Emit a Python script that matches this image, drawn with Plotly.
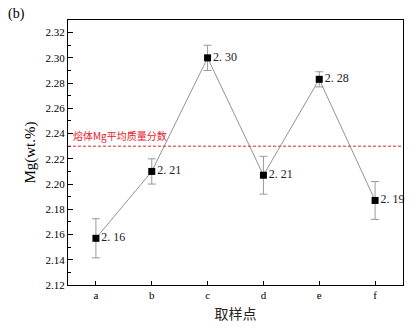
import plotly.graph_objects as go

categories = ["a", "b", "c", "d", "e", "f"]
values = [2.157, 2.210, 2.300, 2.207, 2.283, 2.187]
errors = [0.0155, 0.010, 0.010, 0.015, 0.006, 0.015]
labels = ["2. 16", "2. 21", "2. 30", "2. 21", "2. 28", "2. 19"]
mean_value = 2.23
mean_label = "熔体Mg平均质量分数"

serif = "Liberation Serif, Times New Roman, serif"

fig = go.Figure()
fig.add_trace(go.Scatter(
    x=list(range(len(categories))), y=values,
    mode="lines+markers+text",
    line=dict(color="#777777", width=0.8),
    marker=dict(symbol="square", size=7, color="black"),
    error_y=dict(type="data", array=errors, visible=True, color="#999999", thickness=1, width=4),
    text=labels, textposition="middle right",
    textfont=dict(family=serif, size=12, color="#222222"),
    showlegend=False, cliponaxis=False,
))

fig.add_shape(type="line", xref="paper", x0=0, x1=1, yref="y", y0=mean_value, y1=mean_value,
              line=dict(color="#e8202a", width=1, dash="3px,2px"))
fig.add_annotation(xref="paper", x=0.008, yref="y", y=mean_value, text=mean_label,
                   showarrow=False, xanchor="left", yanchor="bottom", yshift=1,
                   font=dict(family="Noto Sans CJK SC", size=10, color="#e8202a"))
fig.add_annotation(xref="paper", yref="paper", x=-0.185, y=1, text="(b)", showarrow=False,
                   xanchor="left", yanchor="middle", yshift=6,
                   font=dict(family=serif, size=14, color="black"))

fig.update_xaxes(
    range=[-0.5, 5.5], tickmode="array", tickvals=list(range(len(categories))), ticktext=categories,
    ticks="inside", ticklen=4, tickcolor="black", showline=True, linecolor="black", linewidth=1,
    mirror=True, showgrid=False, zeroline=False,
    tickfont=dict(family=serif, size=11, color="black"),
    title=dict(text="取样点", font=dict(family="Noto Sans CJK SC", size=14, color="#222222"), standoff=8),
)
fig.update_yaxes(
    range=[2.12, 2.33], tickmode="array", tickvals=[2.12 + 0.02 * i for i in range(11)],
    tickformat=".2f", ticks="inside", ticklen=5, tickcolor="black",
    minor=dict(ticks="inside", ticklen=3, dtick=0.01, tickcolor="black", tick0=2.12),
    showline=True, linecolor="black", linewidth=1, mirror=True, showgrid=False, zeroline=False,
    tickfont=dict(family=serif, size=11, color="black"),
    title=dict(text="Mg(wt.%)", font=dict(family=serif, size=15, color="black"), standoff=6),
)

fig.update_layout(
    width=416, height=331, margin=dict(l=68, r=12, t=20, b=41),
    plot_bgcolor="white", paper_bgcolor="white",
)
fig.write_html("out.html")
